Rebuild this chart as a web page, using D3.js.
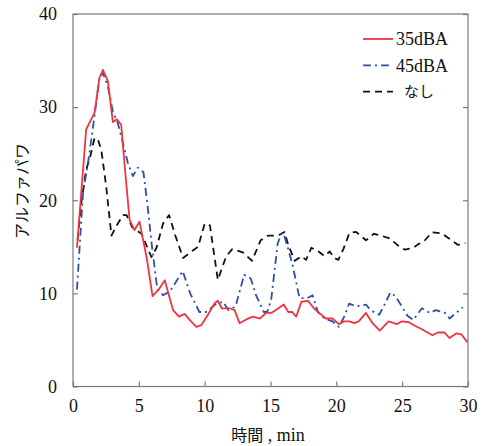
<!DOCTYPE html>
<html><head><meta charset="utf-8">
<script src="https://cdn.jsdelivr.net/npm/d3@7"></script>
<style>body{margin:0;background:#fff}</style>
</head><body>
<svg id="c" width="484" height="446" font-family="Liberation Serif">
<text x="268" y="441" text-anchor="middle" fill="#111"><tspan font-family="Noto Sans CJK JP" font-size="16">時間</tspan><tspan font-family="Liberation Serif" font-size="18"> , min</tspan></text>
<text transform="translate(28,191) rotate(-90)" text-anchor="middle" font-family="Noto Sans CJK JP" font-size="16" fill="#111">アルファパワ</text>
</svg>
<script>
const xTicks=[0,5,10,15,20,25,30];
const yTicks=[0,10,20,30,40];
const seriesNames=["35dBA","45dBA","なし"];
const red=[[0.3,14.9],[1.0,27.6],[1.64,29.4],[2.0,33.1],[2.27,34.0],[2.65,32.8],[3.03,28.4],[3.33,28.7],[3.66,28.1],[4.0,22.5],[4.3,17.9],[4.67,16.8],[5.05,17.7],[5.6,13.8],[6.04,9.7],[6.5,10.4],[6.97,11.4],[7.6,8.2],[8.05,7.5],[8.48,7.8],[8.86,7.15],[9.37,6.4],[9.75,6.6],[10.25,7.7],[10.76,8.95],[11.0,9.2],[11.3,8.4],[11.9,8.4],[12.27,8.2],[12.65,6.8],[13.16,7.2],[13.66,7.5],[14.2,7.3],[14.67,7.9],[15.05,7.9],[15.5,8.3],[16.0,8.8],[16.35,8.0],[16.65,8.0],[16.95,7.5],[17.35,9.1],[17.85,9.2],[18.3,8.4],[18.7,7.9],[19.2,7.3],[19.7,7.3],[20.2,6.7],[20.6,7.0],[21.0,7.0],[21.36,6.8],[21.7,7.0],[22.25,7.9],[22.75,6.8],[23.3,6.0],[23.97,7.0],[24.6,6.7],[25.0,7.0],[25.5,6.9],[26.0,6.5],[26.5,6.15],[27.3,5.5],[27.7,5.8],[28.2,5.8],[28.6,5.2],[29.1,5.7],[29.5,5.6],[29.95,4.75]];
const blue=[[0.3,10.4],[0.76,20.8],[1.14,24.0],[1.39,26.5],[1.6,28.7],[2.0,33.0],[2.27,33.7],[2.65,32.2],[3.03,29.5],[3.4,28.3],[3.8,26.1],[4.17,24.0],[4.55,22.6],[4.92,23.5],[5.35,23.0],[5.65,19.6],[6.0,15.0],[6.4,10.5],[6.84,9.8],[7.35,10.2],[7.85,11.3],[8.33,12.4],[8.9,10.0],[9.6,8.0],[10.1,8.0],[10.9,8.9],[11.4,9.1],[11.8,8.2],[12.35,8.6],[13.0,12.0],[13.5,11.6],[13.9,9.8],[14.5,8.0],[14.75,8.0],[15.05,9.3],[15.55,15.4],[15.86,16.5],[16.06,16.1],[16.3,15.0],[16.7,12.9],[17.2,9.5],[17.8,9.5],[18.2,9.8],[18.6,8.0],[19.1,7.3],[19.7,7.0],[20.2,6.4],[20.6,7.5],[20.97,8.9],[21.5,8.6],[22.25,8.8],[22.6,8.2],[23.25,7.7],[23.6,8.6],[24.1,10.1],[24.5,9.7],[25.4,7.6],[25.85,7.15],[26.5,8.4],[27.1,7.9],[27.55,8.2],[28.25,7.9],[28.6,7.3],[29.6,8.5]];
const black=[[0.35,15.75],[0.63,19.7],[1.0,23.3],[1.26,24.4],[1.64,26.7],[1.9,26.5],[2.15,25.4],[2.52,21.5],[2.92,16.2],[3.28,17.2],[3.8,18.4],[4.07,18.4],[4.5,17.1],[5.2,16.4],[5.96,13.9],[6.34,14.9],[6.84,17.5],[7.3,18.4],[7.75,16.3],[8.36,13.8],[9.1,14.6],[9.5,15.0],[10.0,17.5],[10.4,17.3],[11.0,11.45],[11.64,14.0],[12.1,14.75],[12.9,14.4],[13.6,13.5],[14.25,15.7],[14.8,16.2],[15.3,16.2],[15.7,16.3],[16.06,16.6],[16.35,15.2],[16.85,13.5],[17.35,14.0],[17.7,13.6],[18.1,14.9],[18.65,14.5],[19.1,14.0],[19.5,14.5],[19.85,13.8],[20.15,13.6],[20.55,14.8],[21.0,16.5],[21.5,16.6],[22.25,15.7],[22.85,16.4],[23.4,16.2],[24.05,15.9],[24.8,15.0],[25.2,14.7],[25.8,14.85],[26.25,15.3],[26.67,15.6],[27.25,16.55],[28.0,16.45],[28.65,15.8],[29.25,15.2],[29.8,15.4]];

const svg=d3.select("#c");
const L=73,R=468,T=14,B=386.5;
const x=d3.scaleLinear().domain([0,30]).range([L,R]);
const y=d3.scaleLinear().domain([0,40]).range([B,T]);
const axCol="#7a7a7a";
const SERIF="Liberation Serif";
const CJK="Noto Sans CJK JP";

svg.insert("rect",":first-child").attr("x",L).attr("y",T).attr("width",R-L).attr("height",B-T)
  .attr("fill","none").attr("stroke",axCol).attr("stroke-width",1.2);

const gx=svg.append("g").attr("transform",`translate(0,${B})`)
  .call(d3.axisBottom(x).tickValues(xTicks).tickSizeInner(-5).tickSizeOuter(0).tickPadding(16));
const gy=svg.append("g").attr("transform",`translate(${L},0)`)
  .call(d3.axisLeft(y).tickValues(yTicks).tickSizeInner(-5).tickSizeOuter(0).tickPadding(16));
const gr=svg.append("g").attr("transform",`translate(${R},0)`)
  .call(d3.axisRight(y).tickValues(yTicks).tickSizeInner(-5).tickSizeOuter(0).tickFormat(""));
[gx,gy,gr].forEach(g=>{
  g.attr("font-family",SERIF).attr("font-size",18);
  g.select(".domain").remove();
  g.selectAll(".tick line").attr("stroke",axCol).attr("stroke-width",1.2);
  g.selectAll("text").attr("fill","#111").attr("font-family",SERIF);
});
gx.selectAll("text").attr("dy","0.55em");

const line=d3.line().x(d=>x(d[0])).y(d=>y(d[1]));
const styles=[
  {data:red,color:"#f0343f",dash:null,w:1.8},
  {data:blue,color:"#2e4fa6",dash:"8,4,2,4",w:1.8},
  {data:black,color:"#111",dash:"7,5",w:1.8}
];
styles.slice().reverse().forEach(s=>{
  svg.append("path").datum(s.data).attr("d",line).attr("fill","none")
    .attr("stroke",s.color).attr("stroke-width",s.w)
    .attr("stroke-dasharray",s.dash).attr("stroke-linejoin","round");
});

const lg=svg.append("g");
seriesNames.forEach((n,i)=>{
  const yy=39+i*26.3;
  lg.append("line").attr("x1",363).attr("x2",393).attr("y1",yy).attr("y2",yy)
    .attr("stroke",styles[i].color).attr("stroke-width",styles[i].w)
    .attr("stroke-dasharray",styles[i].dash);
  lg.append("text").attr("x",i==2?404:396).attr("y",yy).attr("dy","0.35em")
    .attr("font-family",i==2?CJK:SERIF).attr("font-size",i==2?15:18).attr("fill","#111").text(n);
});
</script>
</body></html>
